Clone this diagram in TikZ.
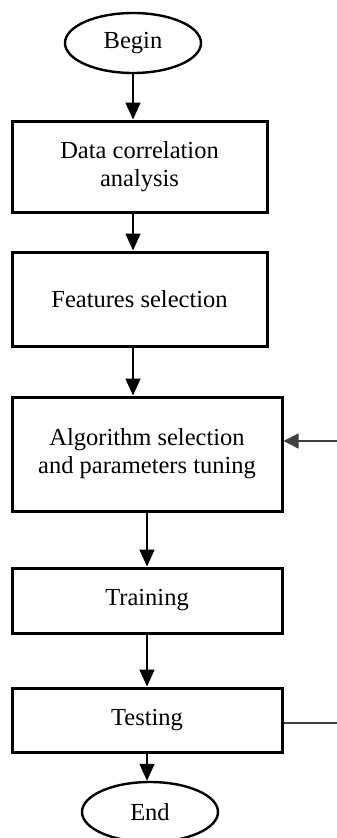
\documentclass[tikz,border=0pt]{standalone}
\usepackage{fontspec}
\setmainfont{Liberation Serif}
\usetikzlibrary{shapes.geometric,arrows.meta}

\begin{document}
\begin{tikzpicture}[x=1pt,y=-1pt,
  font=\fontsize{24.5}{28}\selectfont,
  term/.style={ellipse,draw,line width=2.4pt,inner sep=0pt,minimum width=136pt,minimum height=60pt},
  stepbox/.style={rectangle,draw,line width=3pt,align=center,inner sep=0pt},
  arr/.style={-{Triangle[width=15pt,length=17pt]},line width=1.6pt},
  back/.style={line width=1.3pt,black!75}]
\clip (0,0) rectangle (337,838);

\node[term] (begin) at (133,43) {Begin};
\node[stepbox,minimum width=255pt,minimum height=91pt] (data) at (139.5,166.5) {Data correlation\\analysis};
\node[stepbox,minimum width=255pt,minimum height=94pt] (feat) at (139.5,299) {Features selection};
\node[stepbox,minimum width=270pt,minimum height=114pt] (algo) at (147,454) {Algorithm selection\\and parameters tuning};
\node[stepbox,minimum width=270pt,minimum height=65pt] (train) at (147,600.5) {Training};
\node[stepbox,minimum width=270pt,minimum height=64pt] (test) at (147,720) {Testing};
\node[term] (end) at (150,812) {End};

% main flow
\draw[arr] (begin) -- (begin |- data.north);
\draw[arr] (data.south -| begin) -- (feat.north -| begin);
\draw[arr] (feat.south -| begin) -- (algo.north -| begin);
\draw[arr] (algo) -- (train);
\draw[arr] (train) -- (test);
\draw[arr] (test.south) -- (test.south |- end.north);

% feedback to the tuning step
\coordinate (fbin) at (337,441);
\coordinate (fbout) at (337,723);
\draw[back,-{Triangle[width=15pt,length=15pt]}] (fbin) -- (fbin -| algo.east);
\draw[back] (test.east |- fbout) -- (fbout);
\end{tikzpicture}
\end{document}
